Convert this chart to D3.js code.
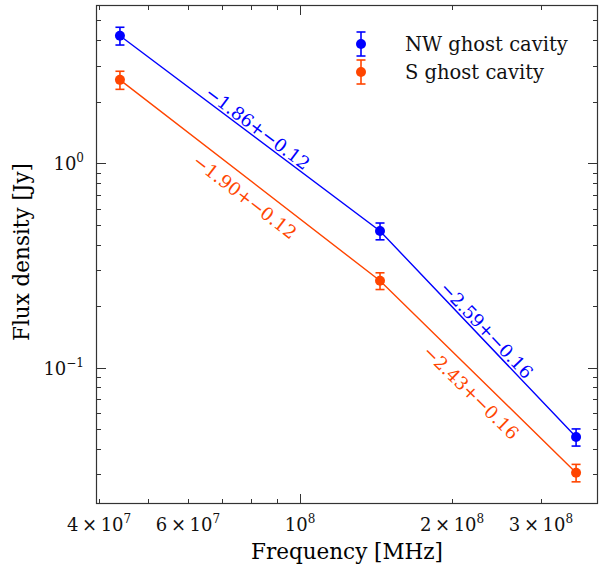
<!DOCTYPE html>
<html>
<head>
<meta charset="utf-8">
<script src="https://cdn.jsdelivr.net/npm/d3@7"></script>
<style>
  body { margin: 0; background: #fff; }
  svg text { font-family: "DejaVu Serif", serif; }
</style>
</head>
<body>
<div id="chart"></div>
<script>
// data
const freqs = [4.4e7, 1.44e8, 3.52e8];
const seriesNames = ["NW ghost cavity", "S ghost cavity"];
const seriesColors = ["#0000ff", "#ff4500"];
const nwFlux = [4.21, 0.466, 0.0457];
const nwErr = [0.42, 0.044, 0.0044];
const sFlux = [2.56, 0.266, 0.0306];
const sErr = [0.26, 0.025, 0.003];
const nwSlopes = ["\u22121.86+\u22120.12", "\u22122.59+\u22120.16"];
const sSlopes = ["\u22121.90+\u22120.12", "\u22122.43+\u22120.16"];
const xTickVals = [4e7, 6e7, 1e8, 2e8, 3e8];
const xTickBase = [4, 6, null, 2, 3];
const xTickExp = [7, 7, 8, 8, 8];
const yTickVals = [0.1, 1];
const yTickExp = ["\u22121", "0"];

const width = 600, height = 570;
const margin = {top: 5, right: 2, bottom: 66, left: 96};

const svg = d3.select('#chart').append('svg')
    .attr("width", width)
    .attr("height", height);

const x = d3.scaleLog()
    .domain([3.945e7, 3.89e8])
    .range([margin.left, width - margin.right]);

const y = d3.scaleLog()
    .domain([0.0215, 5.95])
    .range([height - margin.bottom, margin.top]);

const x0 = margin.left, x1 = width - margin.right;
const y0 = height - margin.bottom, y1 = margin.top;

// minor / major ticks
const xMinor = [];
for (let e = 7; e <= 8; e++) for (let m = 1; m < 10; m++) {
    const v = m * Math.pow(10, e);
    if (v >= x.domain()[0] && v <= x.domain()[1]) xMinor.push(v);
}
const yMinor = [];
for (let e = -2; e <= 0; e++) for (let m = 1; m < 10; m++) {
    const v = m * Math.pow(10, e);
    if (v >= y.domain()[0] && v <= y.domain()[1]) yMinor.push(v);
}
const isDecade = v => Math.abs(Math.log10(v) - Math.round(Math.log10(v))) < 1e-9;
const tickColor = "#333";
const ticks = svg.append("g").attr("stroke", tickColor).attr("stroke-width", 1);
xMinor.forEach(v => {
    const len = isDecade(v) ? 10 : 5;
    const px = Math.round(x(v)) + 0.5;
    ticks.append("line").attr("x1", px).attr("x2", px).attr("y1", y0).attr("y2", y0 - len);
    ticks.append("line").attr("x1", px).attr("x2", px).attr("y1", y1).attr("y2", y1 + len);
});
yMinor.forEach(v => {
    const len = isDecade(v) ? 10 : 5;
    const py = Math.round(y(v)) + 0.5;
    ticks.append("line").attr("y1", py).attr("y2", py).attr("x1", x0).attr("x2", x0 + len);
    ticks.append("line").attr("y1", py).attr("y2", py).attr("x1", x1).attr("x2", x1 - len);
});

// frame
svg.append("rect")
    .attr("x", x0 + 0.5).attr("y", y1 + 0.5)
    .attr("width", x1 - x0 - 1).attr("height", y0 - y1 - 1)
    .attr("fill", "none").attr("stroke", tickColor).attr("stroke-width", 1.2);

// x tick labels
xTickVals.forEach((v, i) => {
    const t = svg.append("text")
        .attr("x", x(v)).attr("y", y0 + 27)
        .attr("text-anchor", "middle")
        .attr("font-size", 18).attr("fill", "#111");
    if (xTickBase[i] !== null) t.append("tspan").text(xTickBase[i] + "\u2009\u00d7\u2009");
    t.append("tspan").text("10");
    t.append("tspan").attr("dy", -8).attr("font-size", 12).text(xTickExp[i]);
});

// y tick labels
yTickVals.forEach((v, i) => {
    const t = svg.append("text")
        .attr("x", x0 - 12).attr("y", y(v) + 7)
        .attr("text-anchor", "end")
        .attr("font-size", 18).attr("fill", "#111");
    t.append("tspan").text("10");
    t.append("tspan").attr("dy", -8).attr("font-size", 12).text(yTickExp[i]);
});

// axis titles
svg.append("text")
    .attr("x", 347).attr("y", 559)
    .attr("text-anchor", "middle").attr("font-size", 21.5)
    .text("Frequency [MHz]");
svg.append("text")
    .attr("transform", `translate(29,252) rotate(-90)`)
    .attr("text-anchor", "middle").attr("font-size", 21.5)
    .text("Flux density [Jy]");

// series
const series = [
    {name: seriesNames[0], color: seriesColors[0], flux: nwFlux, err: nwErr, slopes: nwSlopes, side: -1},
    {name: seriesNames[1], color: seriesColors[1], flux: sFlux, err: sErr, slopes: sSlopes, side: 1}
];

const line = d3.line().x(d => x(d[0])).y(d => y(d[1]));

series.forEach(s => {
    const pts = freqs.map((f, i) => [f, s.flux[i], s.err[i]]);
    const g = svg.append("g");
    g.append("path").attr("d", line(pts))
        .attr("fill", "none").attr("stroke", s.color).attr("stroke-width", 1.4);
    pts.forEach(p => {
        const px = x(p[0]);
        g.append("line").attr("x1", px).attr("x2", px)
            .attr("y1", y(p[1] - p[2])).attr("y2", y(p[1] + p[2]))
            .attr("stroke", s.color).attr("stroke-width", 1.6);
        [p[1] - p[2], p[1] + p[2]].forEach(v => {
            g.append("line").attr("x1", px - 4.5).attr("x2", px + 4.5)
                .attr("y1", y(v)).attr("y2", y(v))
                .attr("stroke", s.color).attr("stroke-width", 1.6);
        });
        g.append("circle").attr("cx", px).attr("cy", y(p[1])).attr("r", 5)
            .attr("fill", s.color);
    });
    // slope labels along each segment
    for (let i = 0; i < pts.length - 1; i++) {
        const ax = x(pts[i][0]), ay = y(pts[i][1]);
        const bx = x(pts[i + 1][0]), by = y(pts[i + 1][1]);
        const ang = Math.atan2(by - ay, bx - ax);
        const mx = (ax + bx) / 2, my = (ay + by) / 2;
        const off = s.side < 0 ? 9 : 16;
        const along = s.side < 0 ? 3 : 6;
        // unit normal pointing to the requested side
        const nx = -Math.sin(ang) * s.side, ny = Math.cos(ang) * s.side;
        const cx = mx + nx * off + Math.cos(ang) * along;
        const cy = my + ny * off + Math.sin(ang) * along;
        g.append("text")
            .attr("transform", `translate(${cx},${cy}) rotate(${ang * 180 / Math.PI})`)
            .attr("text-anchor", "middle").attr("dominant-baseline", "central")
            .attr("font-size", 18).attr("fill", s.color)
            .text(s.slopes[i]);
    }
});

// legend
const legend = svg.append("g");
series.forEach((s, i) => {
    const ly = 44 + i * 28;
    const lx = 361;
    legend.append("line").attr("x1", lx).attr("x2", lx).attr("y1", ly - 12).attr("y2", ly + 12)
        .attr("stroke", s.color).attr("stroke-width", 1.6);
    [ly - 12, ly + 12].forEach(v => legend.append("line")
        .attr("x1", lx - 4.5).attr("x2", lx + 4.5).attr("y1", v).attr("y2", v)
        .attr("stroke", s.color).attr("stroke-width", 1.6));
    legend.append("circle").attr("cx", lx).attr("cy", ly).attr("r", 5).attr("fill", s.color);
    legend.append("text").attr("x", 405).attr("y", ly + 7)
        .attr("font-size", 19.5).attr("fill", "#111").text(s.name);
});
</script>
</body>
</html>
